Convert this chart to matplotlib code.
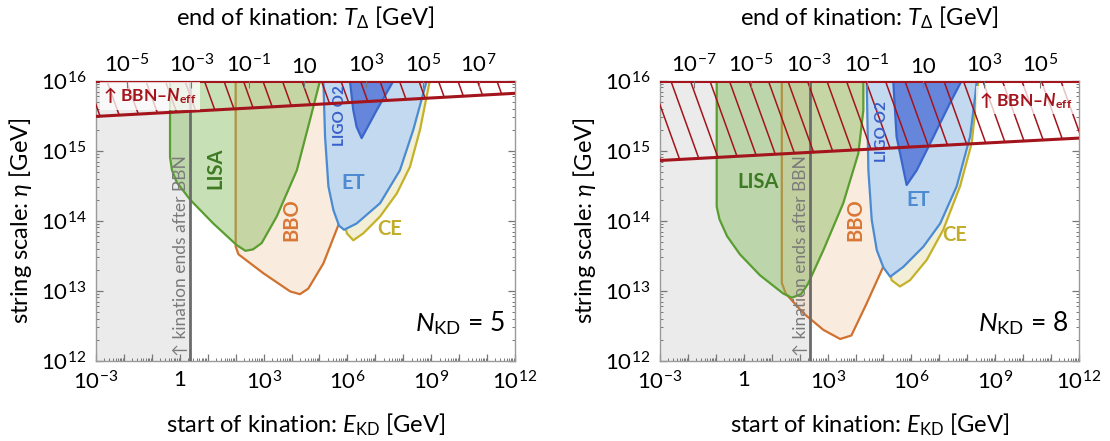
import matplotlib

matplotlib.use("Agg")
import matplotlib.pyplot as plt  # noqa: E402
import numpy as np  # noqa: E402
from matplotlib.patches import Polygon  # noqa: E402
from matplotlib.ticker import FixedLocator, LogLocator, NullFormatter, NullLocator  # noqa: E402

plt.rcParams["font.family"] = ["Lato", "DejaVu Sans"]
plt.rcParams["mathtext.fontset"] = "custom"
plt.rcParams["mathtext.rm"] = "Lato"
plt.rcParams["mathtext.it"] = "Lato:italic"
plt.rcParams["mathtext.bf"] = "Lato:bold"
if "mathtext.bfit" in plt.rcParams:
    plt.rcParams["mathtext.bfit"] = "Lato:bold:italic"
plt.rcParams["mathtext.fallback"] = "stixsans"

# all coordinates below are log10 values: (log10 E_KD / GeV, log10 eta / GeV)
E_RANGE = (-3, 12)
ETA_RANGE = (12, 16)

n_kd = [5, 8]
bbn_line_logE = [0.38, 2.36]

# end-of-kination temperature ticks, placed at the matching log10 E_KD
top_tick_logE = [
    [-1.89, 0.41, 2.47, 4.46, 6.68, 8.71, 10.70],
    [-1.79, 0.25, 2.33, 4.40, 6.41, 8.60, 10.60],
]
top_tick_labels = [
    ["$10^{-5}$", "$10^{-3}$", "$10^{-1}$", "10", "$10^{3}$", "$10^{5}$", "$10^{7}$"],
    ["$10^{-7}$", "$10^{-5}$", "$10^{-3}$", "$10^{-1}$", "10", "$10^{3}$", "$10^{5}$"],
]

# lower edge of the BBN / N_eff excluded band
bbn_neff_edge = [
    [(-3, 15.49), (3, 15.62), (12, 15.82)],
    [(-3, 14.86), (3, 14.99), (12, 15.18)],
]

lisa = [
    [(-0.35, 16.0), (-0.35, 14.91), (-0.28, 14.72), (-0.11, 14.55), (0.37, 14.30),
     (1.20, 13.96), (2.04, 13.65), (2.35, 13.57), (2.62, 13.59), (2.93, 13.68),
     (3.47, 14.06), (4.19, 14.72), (4.66, 15.44), (5.02, 16.0)],
    [(-0.97, 16.0), (-0.97, 14.20), (-0.87, 14.02), (-0.60, 13.78), (-0.14, 13.52),
     (0.58, 13.22), (1.41, 12.96), (1.72, 12.90), (2.05, 12.95), (2.30, 13.10),
     (2.85, 13.58), (3.56, 14.25), (4.10, 14.96), (4.28, 15.58), (4.28, 16.0)],
]
bbo = [
    [(2.00, 16.0), (2.00, 13.63), (2.10, 13.52), (2.99, 13.25), (3.95, 12.99),
     (4.30, 12.95), (4.60, 13.03), (5.14, 13.39), (5.68, 13.94), (6.30, 14.80),
     (6.80, 16.0)],
    [(1.36, 16.0), (1.36, 13.11), (1.50, 12.96), (2.13, 12.68), (2.85, 12.44),
     (3.45, 12.31), (3.85, 12.36), (4.40, 12.82), (4.99, 13.34), (5.40, 14.20),
     (5.60, 16.0)],
]
et = [
    [(5.14, 16.0), (5.20, 15.20), (5.32, 14.49), (5.50, 14.15), (5.70, 13.93),
     (5.88, 13.87), (6.33, 13.96), (7.17, 14.25), (7.88, 14.72), (8.36, 15.30),
     (8.84, 16.0)],
    [(4.40, 16.0), (4.46, 14.72), (4.58, 14.01), (4.76, 13.58), (5.00, 13.33),
     (5.24, 13.20), (5.71, 13.34), (6.43, 13.63), (7.03, 13.96), (7.62, 14.49),
     (8.10, 15.20), (8.28, 15.77), (8.34, 16.0)],
]
ligo_o2 = [
    [(6.09, 16.0), (6.21, 15.58), (6.33, 15.34), (6.51, 15.18), (7.05, 15.58),
     (7.65, 16.0)],
    [(5.35, 16.0), (5.47, 15.20), (5.83, 14.51), (6.19, 14.72), (6.79, 15.20),
     (7.38, 15.68), (7.80, 16.0)],
]
ce = [
    [(5.60, 16.0), (5.70, 14.30), (5.98, 13.82), (6.21, 13.72), (6.57, 13.82),
     (7.17, 14.06), (7.77, 14.39), (8.24, 14.77), (8.60, 15.30), (8.95, 16.0)],
    [(5.00, 16.0), (5.10, 13.60), (5.29, 13.15), (5.59, 13.06), (5.95, 13.15),
     (6.55, 13.44), (7.14, 13.87), (7.74, 14.49), (8.16, 15.11), (8.40, 16.0)],
]

# label anchors (log10 E_KD, log10 eta) and rotation
lisa_label = [(1.26, 14.75, 90), (0.52, 14.56, 0)]
bbo_label = [(4.00, 14.01, 90), (3.98, 14.01, 90)]
et_label = [(6.21, 14.54, 0), (6.25, 14.30, 0)]
ligo_label = [(5.74, 15.51, 90), (4.94, 15.27, 90)]
ce_label = [(7.53, 13.88, 0), (7.56, 13.80, 0)]
bbn_text_x = [0.05, 2.05]

RED = "#a3141c"
GRAY_LINE = "#6b6b6b"

detectors = (
    # data, face, alpha, edge, label color, label anchors, text
    (bbo, "#f6d3ba", 0.45, "#d0712e", "#d97736", bbo_label, "BBO"),
    (lisa, "#87bb5c", 0.45, "#5a9d30", "#3e7a24", lisa_label, "LISA"),
    (ce, "#f2efd6", 1.0, "#c4b12a", "#c0ae2c", ce_label, "CE"),
    (et, "#c2d9ef", 1.0, "#4a8bd2", "#4c8bd2", et_label, "ET"),
    (ligo_o2, "#6686dc", 1.0, "#3a66cc", "#3a5fcc", ligo_label, "LIGO O2"),
)


def log_fmt(value, _pos=None):
    exponent = int(round(np.log10(value)))
    if exponent == 0:
        return "1"
    return f"$10^{{{exponent}}}$"


def x_fmt(value, pos=None):
    exponent = int(round(np.log10(value)))
    if exponent % 3 != 0:
        return ""
    return log_fmt(value, pos)


def pts(pairs):
    return 10.0 ** np.asarray(pairs, dtype=float)


fig = plt.figure(figsize=(11.10, 4.41), dpi=100)
axes_left = [96 / 1110, 660 / 1110]
for k in range(2):
    ax = fig.add_axes([axes_left[k], 1 - 360.7 / 441, 419 / 1110, 280 / 441])
    ax.set_xscale("log")
    ax.set_yscale("log")
    ax.set_xlim(10.0 ** E_RANGE[0], 10.0 ** E_RANGE[1])
    ax.set_ylim(10.0 ** ETA_RANGE[0], 10.0 ** ETA_RANGE[1])

    # kination would end after BBN left of this line
    xb = 10.0 ** bbn_line_logE[k]
    ax.axvspan(10.0 ** E_RANGE[0], xb, color="#ebebeb", lw=0, zorder=0)

    for z, (data, face, alpha, edge, tcolor, anchors, name) in enumerate(detectors):
        xy = pts(data[k])
        ax.add_patch(Polygon(xy, closed=True, facecolor=face, alpha=alpha,
                             edgecolor="none", zorder=2 + 0.1 * z))
        ax.add_patch(Polygon(xy, closed=True, facecolor="none", edgecolor=edge,
                             lw=1.6, joinstyle="round", zorder=2.05 + 0.1 * z))
        lx, ly, rot = anchors[k]
        ax.text(10.0 ** lx, 10.0 ** ly, name, rotation=rot, color=tcolor,
                fontsize=11 if name == "LIGO O2" else 14.5, fontweight="bold",
                ha="center", va="center", zorder=6)

    ax.axvline(xb, color=GRAY_LINE, lw=2.0, zorder=4)
    ax.text(10.0 ** bbn_text_x[k], 10.0 ** 12.06, "↑ kination ends after BBN",
            rotation=90, color="#7a7a7a", fontsize=12.5, ha="center", va="bottom",
            zorder=6)

    # BBN / N_eff excluded band with steep hatching
    edge = bbn_neff_edge[k]
    band = [(E_RANGE[0], ETA_RANGE[1])] + list(edge) + [(E_RANGE[1], ETA_RANGE[1])]
    band_patch = Polygon(pts(band), closed=True, facecolor="none", edgecolor="none",
                         zorder=5)
    ax.add_patch(band_patch)
    for x0 in np.arange(-0.3, 1.1, 19.5 / 419):
        (hl,) = ax.plot([x0, x0 + 0.36 * 280 / 419], [1.0, 0.0], color=RED, lw=1.1,
                        transform=ax.transAxes, zorder=5, clip_on=True)
        hl.set_clip_path(band_patch)
    ex, ey = zip(*edge)
    ax.plot(10.0 ** np.asarray(ex), 10.0 ** np.asarray(ey), color=RED, lw=2.2,
            zorder=6, solid_capstyle="butt")
    ax.axhline(10.0 ** ETA_RANGE[1], color=RED, lw=2.2, zorder=6)

    bbn_label = r"↑ BBN–$\mathbfit{N}_{\mathbf{eff}}$"
    box = dict(facecolor="white", alpha=0.75, edgecolor="none", pad=2.5)
    if k == 0:
        ax.text(10.0 ** -2.75, 10.0 ** 15.78, bbn_label, color=RED, fontsize=12.5,
                fontweight="bold", ha="left", va="center", bbox=box, zorder=7)
    else:
        ax.text(0.985, 10.0 ** 15.72, bbn_label, color=RED, fontsize=12.5,
                fontweight="bold", ha="right", va="center", bbox=box, zorder=7,
                transform=ax.get_yaxis_transform())

    ax.text(0.975, 0.135, rf"$N_{{\mathrm{{KD}}}}$ = {n_kd[k]}",
            transform=ax.transAxes, ha="right", va="center", fontsize=19, zorder=7)

    # ticks
    ax.xaxis.set_major_locator(LogLocator(base=10, numticks=30))
    ax.xaxis.set_major_formatter(x_fmt)
    ax.xaxis.set_minor_locator(LogLocator(base=10, subs=np.arange(2, 10), numticks=30))
    ax.xaxis.set_minor_formatter(NullFormatter())
    ax.yaxis.set_major_locator(LogLocator(base=10, numticks=30))
    ax.yaxis.set_major_formatter(log_fmt)
    ax.yaxis.set_minor_locator(LogLocator(base=10, subs=np.arange(2, 10), numticks=30))
    ax.yaxis.set_minor_formatter(NullFormatter())
    ax.tick_params(which="both", direction="in", color="#777777", top=False, right=True,
                   labelsize=16, pad=7)
    ax.tick_params(which="major", length=5, width=0.9)
    ax.tick_params(which="minor", length=2.5, width=0.7)
    for spine in ax.spines.values():
        spine.set_color("#9a9a9a")
        spine.set_linewidth(1.0)
    ax.set_xlabel(r"start of kination: $E_{\mathrm{KD}}$ [GeV]", fontsize=17, labelpad=13)
    ax.set_ylabel(r"string scale: $\eta$ [GeV]", fontsize=17, labelpad=5)

    top = ax.twiny()
    top.set_xscale("log")
    top.set_xlim(ax.get_xlim())
    top.xaxis.set_major_locator(FixedLocator(10.0 ** np.asarray(top_tick_logE[k])))
    top.set_xticklabels(top_tick_labels[k])
    top.xaxis.set_minor_locator(NullLocator())
    top.tick_params(which="both", direction="in", color="#777777", labelsize=16,
                    length=5, pad=3)
    for spine in top.spines.values():
        spine.set_visible(False)
    top.set_xlabel(r"end of kination: $T_{\Delta}$ [GeV]", fontsize=17, labelpad=20)

fig.savefig("out.png", dpi=100, facecolor="white")
